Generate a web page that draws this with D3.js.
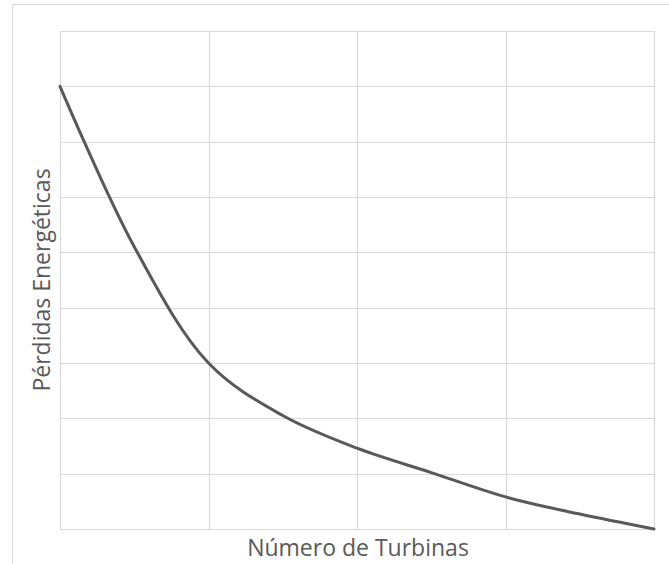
<!DOCTYPE html>
<html><head><meta charset="utf-8">
<script src="https://cdn.jsdelivr.net/npm/d3@7"></script>
<style>body{margin:0;background:#fff}svg{display:block}</style>
</head><body>
<svg id="c" width="669" height="564"></svg>
<script>
const turbinas = [0, 0.5, 1, 1.5, 2, 2.5, 3, 3.5, 4];
const perdidas = [8, 5.1, 3, 2.05, 1.46, 1.02, 0.58, 0.27, 0];
const xTicks = [0, 1, 2, 3, 4];
const yTicks = [0, 1, 2, 3, 4, 5, 6, 7, 8, 9];
const xTitle = "Número de Turbinas";
const yTitle = "Pérdidas Energéticas";

const svg = d3.select("#c");
const m = {l: 60, r: 654, t: 31, b: 529};
const x = d3.scaleLinear().domain([0, 4]).range([m.l, m.r]);
const y = d3.scaleLinear().domain([0, 9]).range([m.b, m.t]);

svg.append("rect").attr("x", 12.5).attr("y", 4.5).attr("width", 700).attr("height", 600)
  .attr("fill", "#fff").attr("stroke", "#d9d9d9").attr("stroke-width", 1);

const g = svg.append("g");
g.selectAll("line.h").data(yTicks).join("line")
  .attr("x1", m.l).attr("x2", m.r)
  .attr("y1", d => Math.round(y(d)) + 0.5).attr("y2", d => Math.round(y(d)) + 0.5)
  .attr("stroke", "#d9d9d9").attr("stroke-width", 1.2);
g.selectAll("line.v").data(xTicks).join("line")
  .attr("y1", m.t).attr("y2", m.b)
  .attr("x1", d => Math.round(x(d)) + 0.5).attr("x2", d => Math.round(x(d)) + 0.5)
  .attr("stroke", "#d9d9d9").attr("stroke-width", 1.2);

const line = d3.line().x((d, i) => x(turbinas[i])).y(d => y(d)).curve(d3.curveCatmullRom.alpha(0.5));
svg.append("path").datum(perdidas).attr("d", line)
  .attr("fill", "none").attr("stroke", "#595959").attr("stroke-width", 3).attr("stroke-linecap", "round");

svg.append("text").attr("x", (m.l + m.r) / 2 + 1).attr("y", 556)
  .attr("text-anchor", "middle").attr("font-family", "Open Sans").attr("font-size", 23)
  .attr("fill", "#595959").text(xTitle);
svg.append("text").attr("transform", `translate(50,${(m.t + m.b) / 2}) rotate(-90)`)
  .attr("text-anchor", "middle").attr("font-family", "Open Sans").attr("font-size", 23)
  .attr("fill", "#595959").text(yTitle);
</script>
</body></html>
